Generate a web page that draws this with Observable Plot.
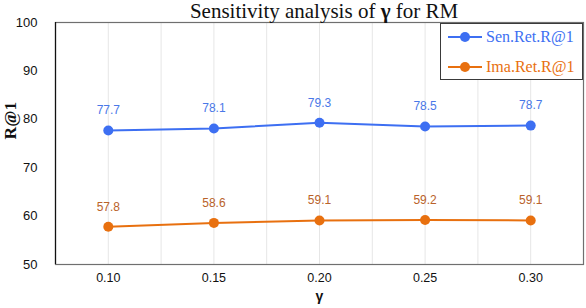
<!DOCTYPE html>
<html>
<head>
<meta charset="utf-8">
<script src="https://cdn.jsdelivr.net/npm/d3@7"></script>
<script src="https://cdn.jsdelivr.net/npm/@observablehq/plot@0.6"></script>
<style>
  html, body { margin: 0; padding: 0; background: #fff; }
  #wrap { position: relative; width: 586px; height: 308px; overflow: hidden; }
  #legend {
    position: absolute; left: 440px; top: 23px; width: 141px; height: 55px;
    border: 1.5px solid #3a3a3a; background: #fff;
    font-family: "Liberation Serif", serif; font-size: 16px;
  }
  .entry { position: absolute; left: 7px; display: flex; align-items: center; }
  .entry svg { display: block; }
  .entry span { margin-left: 4px; }
</style>
</head>
<body>
<div id="wrap"></div>
<script>
const gammas = [0.10, 0.15, 0.20, 0.25, 0.30];
const xTickLabels = ["0.10", "0.15", "0.20", "0.25", "0.30"];
const senRet = [77.7, 78.1, 79.3, 78.5, 78.7];
const imaRet = [57.8, 58.6, 59.1, 59.2, 59.1];
const yTicks = [50, 60, 70, 80, 90, 100];
const seriesNames = ["Sen.Ret.R@1", "Ima.Ret.R@1"];
const gridX = [0.10, 0.125, 0.15, 0.175, 0.20, 0.225, 0.25, 0.275, 0.30];
const titleText = "Sensitivity analysis of ";
const colors = {"Sen.Ret.R@1": "#3d6ff2", "Ima.Ret.R@1": "#e8700f"};
const labelColors = {"Sen.Ret.R@1": "#4a78e8", "Ima.Ret.R@1": "#b9622a"};

const data = [];
gammas.forEach((g, i) => {
  data.push({g, v: senRet[i], s: seriesNames[0]});
  data.push({g, v: imaRet[i], s: seriesNames[1]});
});

const sans = "'Liberation Sans', Arial, sans-serif";
const serif = "'Liberation Serif', serif";

const chart = Plot.plot({
  width: 586, height: 308,
  marginLeft: 55, marginRight: 3, marginTop: 22, marginBottom: 44,
  style: {fontFamily: sans, background: "#fff"},
  x: {type: "linear", domain: [0.075, 0.325]},
  y: {domain: [50, 100]},
  marks: [
    Plot.ruleX(gridX, {stroke: "#e6e6e6", strokeWidth: 1}),
    Plot.frame({stroke: "#6f6f6f", strokeWidth: 1.2}),
    Plot.axisY({ticks: yTicks, tickSize: 0, tickPadding: 18, fontSize: 13, fill: "#111", label: null}),
    Plot.axisX({ticks: gammas, tickSize: 0, tickPadding: 9, fontSize: 12.5, fill: "#111",
      tickFormat: (d) => xTickLabels[gammas.findIndex(g => Math.abs(g - d) < 1e-9)], label: null}),
    Plot.ruleX([0.075], {stroke: "#111", strokeWidth: 1.2}),
    Plot.line(data, {x: "g", y: "v", z: "s", stroke: (d) => colors[d.s], strokeWidth: 2}),
    Plot.dot(data, {x: "g", y: "v", fill: (d) => colors[d.s], r: 5, stroke: "none"}),
    Plot.text(data, {x: "g", y: "v", text: (d) => d.v.toFixed(1), fill: (d) => labelColors[d.s],
      dy: -20, fontSize: 12, fontFamily: sans}),
    Plot.text(["R@1"], {frameAnchor: "left", text: d => d, rotate: -90, dx: -45, dy: -4, fontSize: 17.5,
      fontWeight: "bold", fontFamily: serif, fill: "#111"}),
    Plot.text(["γ"], {frameAnchor: "bottom", text: d => d, dy: 36, fontSize: 14,
      fontWeight: "bold", fontFamily: sans, fill: "#111"})
  ]
});

// title as real text inside the svg
const svg = d3.select(chart);
const t = svg.append("text")
  .attr("x", 324).attr("y", 17.5)
  .attr("text-anchor", "middle")
  .attr("font-family", serif).attr("font-size", 21).attr("fill", "#111");
t.append("tspan").text(titleText);
t.append("tspan").attr("font-weight", "bold").text("γ");
t.append("tspan").text(" for RM");

const wrap = document.getElementById("wrap");
wrap.appendChild(chart);

// legend
const legend = document.createElement("div");
legend.id = "legend";
seriesNames.forEach((name, i) => {
  const e = document.createElement("div");
  e.className = "entry";
  e.style.top = (i === 0 ? 3 : 33) + "px";
  const s = d3.create("svg").attr("width", 34).attr("height", 20);
  s.append("line").attr("x1", 0).attr("x2", 34).attr("y1", 10).attr("y2", 10)
    .attr("stroke", colors[name]).attr("stroke-width", 2);
  s.append("circle").attr("cx", 17).attr("cy", 10).attr("r", 5).attr("fill", colors[name]);
  e.appendChild(s.node());
  const sp = document.createElement("span");
  sp.textContent = name;
  sp.style.color = colors[name];
  e.appendChild(sp);
  legend.appendChild(e);
});
wrap.appendChild(legend);
</script>
</body>
</html>
